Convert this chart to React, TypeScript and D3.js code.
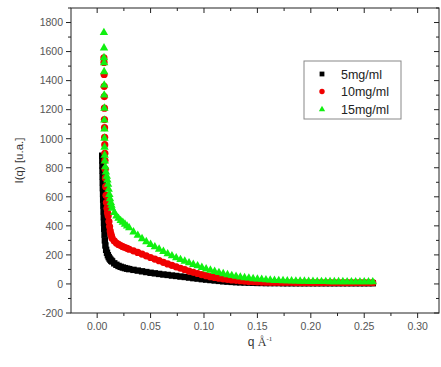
import React from "react";
import * as d3 from "d3";

// shared q grid (Å^-1) for the tails of all three curves
const qGrid = [
  0.014, 0.016, 0.018, 0.02, 0.022, 0.024, 0.026, 0.028, 0.03,
  0.034, 0.038, 0.042, 0.046, 0.05, 0.054, 0.058, 0.062, 0.066, 0.07,
  0.074, 0.078, 0.082, 0.086, 0.09, 0.094, 0.098, 0.102, 0.106, 0.11,
  0.114, 0.118, 0.122, 0.126, 0.13, 0.134, 0.138, 0.142, 0.146, 0.15,
  0.154, 0.158, 0.162, 0.166, 0.17, 0.174, 0.178, 0.182, 0.186, 0.19,
  0.194, 0.198, 0.202, 0.206, 0.21, 0.214, 0.218, 0.222, 0.226, 0.23,
  0.234, 0.238, 0.242, 0.246, 0.25, 0.254, 0.258,
];

// steep low-q part, per series
const blackHeadQ = [0.0047, 0.0048, 0.0049, 0.005, 0.0051, 0.0052, 0.0053, 0.0055, 0.0056, 0.0058, 0.006, 0.0062, 0.0064, 0.0066, 0.0069, 0.0072, 0.0077, 0.0084, 0.0092, 0.01, 0.0108, 0.0116, 0.0124, 0.0132];
const blackHeadI = [883, 850, 815, 780, 740, 700, 660, 620, 580, 540, 500, 460, 420, 380, 340, 300, 265, 235, 215, 198, 185, 175, 167, 160];
const blackTailI = [
  155, 142, 132, 124, 118, 113, 109, 105, 102,
  97, 92, 87, 82, 77, 73, 69, 65, 62, 58, 55, 51, 48, 44, 40, 37, 33, 30, 27, 24,
  21, 18, 16, 14, 12, 11, 10, 9, 8, 7, 7, 6, 6, 6, 6, 5, 5, 5, 5, 5,
  5, 5, 5, 5, 5, 5, 5, 5, 5, 5, 5, 5, 5, 5, 5, 5, 5,
];

const redHeadQ = [0.0063, 0.0064, 0.0065, 0.0066, 0.0067, 0.0068, 0.0068, 0.0069, 0.007, 0.0071, 0.0072, 0.0073, 0.0075, 0.0077, 0.008, 0.0083, 0.0087, 0.0092, 0.0097, 0.0103, 0.011, 0.0116, 0.0122, 0.0128, 0.0134];
const redHeadI = [1557, 1525, 1442, 1361, 1290, 1210, 1132, 1076, 1010, 959, 900, 850, 790, 730, 670, 610, 560, 520, 490, 470, 430, 395, 365, 345, 330];
const redTailI = [
  315, 296, 282, 272, 264, 257, 251, 245, 239,
  228, 217, 206, 194, 182, 171, 160, 149, 138, 128, 118, 108, 98, 89, 80, 72, 64, 57, 50, 45,
  40, 35, 31, 28, 25, 22, 19, 17, 15, 14, 13, 12, 11, 11, 10, 10, 10, 10, 9, 9,
  9, 9, 9, 9, 9, 9, 9, 9, 9, 9, 9, 9, 9, 9, 9, 9, 9,
];

const greenHeadQ = [0.0063, 0.0064, 0.0064, 0.0065, 0.0065, 0.0066, 0.0066, 0.0067, 0.0067, 0.0068, 0.0068, 0.0069, 0.007, 0.0072, 0.0076, 0.0082, 0.009, 0.0096, 0.0102, 0.0108, 0.0114, 0.012, 0.0127, 0.0134];
const greenHeadI = [1734, 1628, 1561, 1527, 1465, 1373, 1304, 1214, 1132, 1070, 1007, 945, 890, 850, 810, 775, 745, 720, 690, 655, 620, 590, 565, 545];
const greenTailI = [
  525, 495, 472, 455, 440, 428, 415, 402, 390,
  362, 338, 315, 294, 275, 259, 243, 227, 211, 197, 183, 171, 160, 149, 138, 128, 117, 107, 98, 90,
  82, 74, 67, 61, 56, 51, 47, 44, 40, 37, 35, 32, 30, 28, 27, 26, 25, 24, 23, 22,
  22, 21, 21, 20, 20, 20, 19, 19, 19, 19, 18, 18, 18, 18, 18, 18, 18,
];

const seriesNames = ["5mg/ml", "10mg/ml", "15mg/ml"];
const seriesColors = ["#000000", "#f00000", "#10f010"];

const xTicks = [0, 0.05, 0.1, 0.15, 0.2, 0.25, 0.3];
const xTickLabels = ["0.00", "0.05", "0.10", "0.15", "0.20", "0.25", "0.30"];
const yTicks = [-200, 0, 200, 400, 600, 800, 1000, 1200, 1400, 1600, 1800];

const W = 441;
const H = 367;
const plot = { left: 71, right: 439, top: 8, bottom: 313 };

function Marker({ kind, cx, cy, color, s = 1 }: { kind: number; cx: number; cy: number; color: string; s?: number }) {
  if (kind === 0) {
    const h = 3.2 * s;
    return <rect x={cx - h} y={cy - h} width={2 * h} height={2 * h} fill={color} />;
  }
  if (kind === 1) return <circle cx={cx} cy={cy} r={3.6 * s} fill={color} />;
  return <path d={`M${cx},${cy - 4.4 * s}L${cx + 4.2 * s},${cy + 3 * s}L${cx - 4.2 * s},${cy + 3 * s}Z`} fill={color} />;
}

export default function App() {
  const x = d3.scaleLinear().domain([-0.0245, 0.32]).range([plot.left, plot.right]);
  const y = d3.scaleLinear().domain([-200, 1900]).range([plot.bottom, plot.top]);

  const series = [
    { q: blackHeadQ.concat(qGrid), v: blackHeadI.concat(blackTailI) },
    { q: redHeadQ.concat(qGrid), v: redHeadI.concat(redTailI) },
    { q: greenHeadQ.concat(qGrid), v: greenHeadI.concat(greenTailI) },
  ];

  const xMinor = d3.range(-0.025, 0.33, 0.05).filter((d) => x(d) >= plot.left - 0.5 && x(d) <= plot.right + 0.5);
  const yMinor = d3.range(-100, 1901, 200);
  const axisColor = "#222";
  const font = "Arial, 'Liberation Sans', sans-serif";

  return (
    <svg width={W} height={H} style={{ position: "absolute", left: 0, top: 0, background: "#fff" }}>
      {/* data */}
      {series.map((s, si) => (
        <g key={si}>
          {s.q.map((q, i) => (
            <Marker key={i} kind={si} cx={x(q)} cy={y(s.v[i])} color={seriesColors[si]} />
          ))}
        </g>
      ))}

      {/* frame */}
      <rect x={plot.left} y={plot.top} width={plot.right - plot.left} height={plot.bottom - plot.top}
        fill="none" stroke={axisColor} strokeWidth={1} />

      {/* bottom / top ticks */}
      {xTicks.map((t) => (
        <g key={"xt" + t}>
          <line x1={x(t)} x2={x(t)} y1={plot.bottom} y2={plot.bottom + 5} stroke={axisColor} />
          <line x1={x(t)} x2={x(t)} y1={plot.top} y2={plot.top + 5} stroke={axisColor} />
        </g>
      ))}
      {xMinor.map((t) => (
        <g key={"xm" + t}>
          <line x1={x(t)} x2={x(t)} y1={plot.bottom} y2={plot.bottom + 3} stroke={axisColor} />
          <line x1={x(t)} x2={x(t)} y1={plot.top} y2={plot.top + 3} stroke={axisColor} />
        </g>
      ))}
      {xTicks.map((t, i) => (
        <text key={"xl" + t} x={x(t)} y={plot.bottom + 17} textAnchor="middle" fontSize={10.5}
          fontFamily={font} fill="#555">{xTickLabels[i]}</text>
      ))}

      {/* left / right ticks */}
      {yTicks.map((t) => (
        <g key={"yt" + t}>
          <line x1={plot.left - 5} x2={plot.left} y1={y(t)} y2={y(t)} stroke={axisColor} />
          <line x1={plot.right - 5} x2={plot.right} y1={y(t)} y2={y(t)} stroke={axisColor} />
        </g>
      ))}
      {yMinor.map((t) => (
        <g key={"ym" + t}>
          <line x1={plot.left - 3} x2={plot.left} y1={y(t)} y2={y(t)} stroke={axisColor} />
          <line x1={plot.right - 3} x2={plot.right} y1={y(t)} y2={y(t)} stroke={axisColor} />
        </g>
      ))}
      {yTicks.map((t) => (
        <text key={"yl" + t} x={plot.left - 8} y={y(t) + 3.8} textAnchor="end" fontSize={10.5}
          fontFamily={font} fill="#555">{t}</text>
      ))}

      {/* axis titles */}
      <text x={260} y={346} textAnchor="middle" fontSize={12} fontFamily="'Liberation Serif', serif" fill="#333">
        <tspan fontFamily={font}>q </tspan>Å<tspan fontSize={7} dy={-5}>-1</tspan>
      </text>
      <text transform={`translate(23,${(plot.top + plot.bottom) / 2}) rotate(-90)`} textAnchor="middle"
        fontSize={11.5} fontFamily={font} fill="#333">I(q) [u.a.]</text>

      {/* legend */}
      <rect x={304} y={61} width={97} height={58} fill="#fff" stroke="#888" strokeWidth={1} />
      {seriesNames.map((n, i) => (
        <g key={n}>
          <Marker kind={i} cx={322} cy={74 + i * 17.5} color={seriesColors[i]} s={0.75} />
          <text x={341} y={78.5 + i * 17.5} fontSize={12.5} fontFamily={font} fill="#222">{n}</text>
        </g>
      ))}
    </svg>
  );
}
